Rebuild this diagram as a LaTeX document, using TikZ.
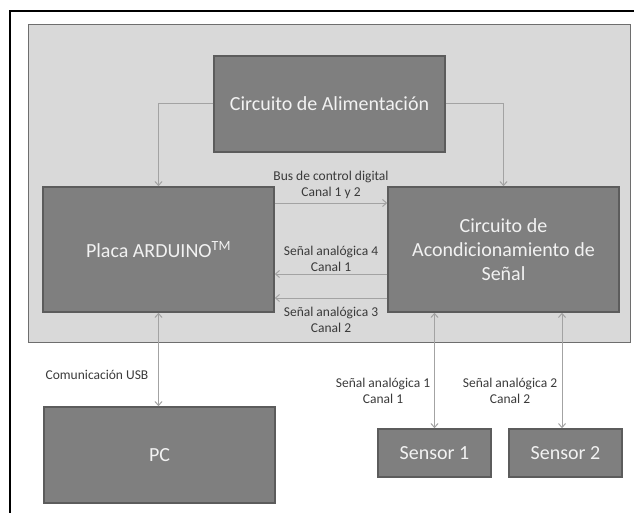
\documentclass[tikz,border=0pt]{standalone}
\usepackage{fontspec}
\setmainfont{Carlito}
\usetikzlibrary{arrows.meta}
\definecolor{boxfill}{HTML}{7F7F7F}
\definecolor{boxline}{HTML}{5C5C5C}
\definecolor{panelfill}{HTML}{D9D9D9}
\definecolor{panelline}{HTML}{6E6E6E}
\definecolor{wiregray}{HTML}{A3A3A3}
\definecolor{txtlight}{HTML}{F2F2F2}
\definecolor{txtdark}{HTML}{3A3A3A}
\begin{document}
\begin{tikzpicture}[x=1pt,y=-1pt,
  block/.style={draw=boxline,line width=1.5pt,fill=boxfill,text=txtlight,
    font=\fontsize{20}{24}\selectfont,align=center,inner sep=0pt},
  bigblock/.style={block,minimum width=231pt,minimum height=125pt},
  sensorblock/.style={block,minimum width=113pt,minimum height=48pt},
  wire/.style={draw=wiregray,line width=1pt},
  tip/.tip={Straight Barb[length=4pt,width=7pt]},
  lbl/.style={text=txtdark,font=\fontsize{13.5}{16}\selectfont,align=center,inner sep=0pt}]
\useasboundingbox (0,0) rectangle (634,513);

% Outer frame and board area
\draw[line width=2pt] (10,513) -- (10,11.5) -- (634,11.5);
\draw[draw=panelline,fill=panelfill,line width=1.5pt] (28.5,24.5) rectangle (630.5,342.5);

% Blocks
\node[block,minimum width=231pt,minimum height=96pt] (alim) at (329.5,104) {Circuito de Alimentación};
\node[bigblock] (placa) at (158.5,249.5) {Placa ARDUINO\textsuperscript{TM}};
\node[bigblock] (acond) at (503.5,249.5) {Circuito de\\Acondicionamiento de\\Señal};
\node[block,minimum width=231pt,minimum height=96pt] (pc) at (159.5,455) {PC};
\node[sensorblock] (sen1) at (434.5,453) {Sensor 1};
\node[sensorblock] (sen2) at (565.5,453) {Sensor 2};

% Power supply
\draw[wire,-tip] (alim.west) -| (placa.north);
\draw[wire,-tip] (alim.east) -| (acond.north);

% Signals between the boards
\draw[wire,-tip] ([yshift=46.5pt]placa.east) -- ([yshift=46.5pt]acond.west);
\draw[wire,-tip] ([yshift=-24.5pt]acond.west) -- ([yshift=-24.5pt]placa.east);
\draw[wire,-tip] ([yshift=-48.5pt]acond.west) -- ([yshift=-48.5pt]placa.east);
\node[lbl] (buslbl) at (331,185) {Bus de control digital\\Canal 1 y 2};
\node[lbl] (an4lbl) at (331,259) {Señal analógica 4\\Canal 1};
\node[lbl] (an3lbl) at (331,319.5) {Señal analógica 3\\Canal 2};

% USB and sensors
\draw[wire,tip-tip] (placa.south) -- (placa.south |- pc.north);
\draw[wire,tip-tip] (sen1.north |- acond.south) -- (sen1.north);
\draw[wire,tip-tip] ([xshift=-3.5pt]sen2.north |- acond.south) -- ([xshift=-3.5pt]sen2.north);
\node[lbl] (usblbl) at (97,375) {Comunicación USB};
\node[lbl] (an1lbl) at (383,391) {Señal analógica 1\\Canal 1};
\node[lbl] (an2lbl) at (510,391) {Señal analógica 2\\Canal 2};
\end{tikzpicture}
\end{document}
